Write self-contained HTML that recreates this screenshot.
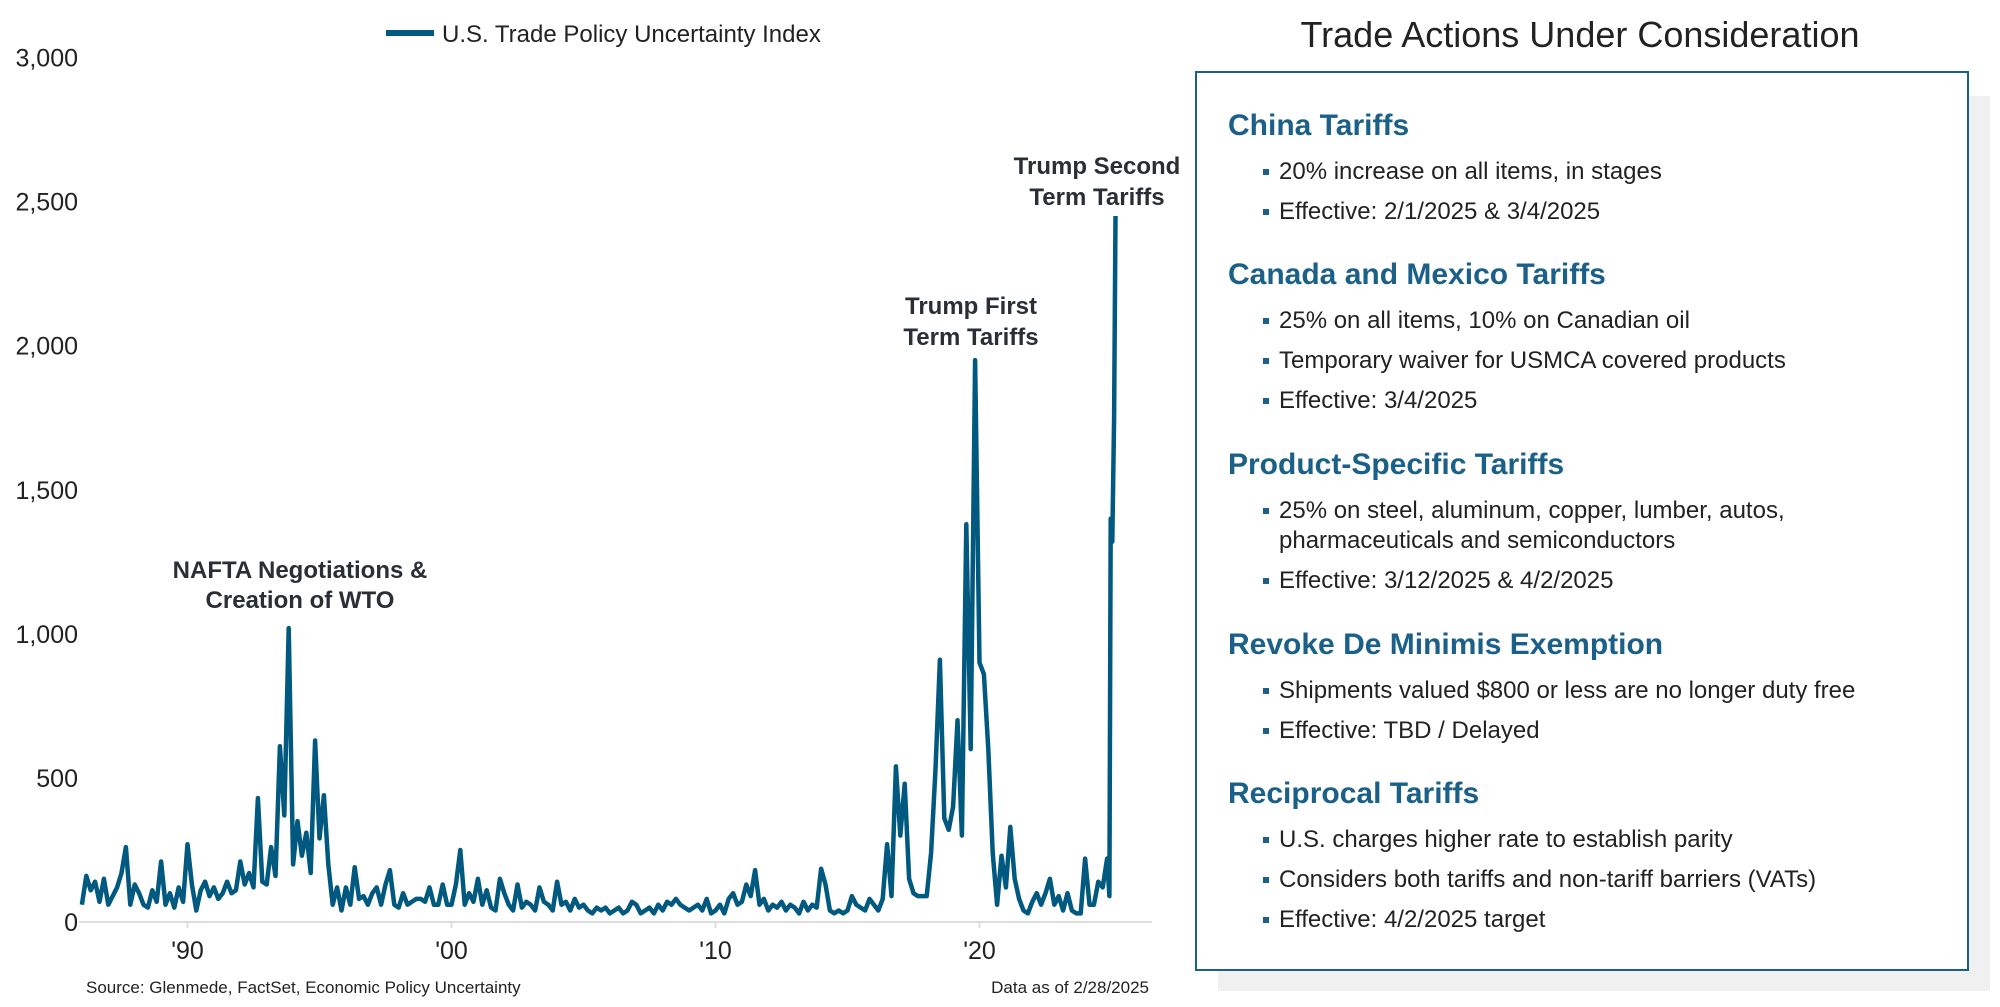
<!DOCTYPE html>
<html><head><meta charset="utf-8">
<style>
body{margin:0;width:2000px;height:1007px;background:#fff;position:relative;overflow:hidden;font-family:"Liberation Sans",sans-serif;color:#222}
.abs{position:absolute}
.h{position:absolute;left:1228px;font-weight:bold;font-size:30px;color:#1b6088;white-space:nowrap}
.b{position:absolute;left:1279px;font-size:24px;color:#222;white-space:nowrap}
.b::before{content:"";position:absolute;left:-16px;top:11px;width:6px;height:6px;background:#1b6088}
.b.nb::before{display:none}
</style></head><body>
<svg id="chart" class="abs" style="left:0;top:0" width="1200" height="1007"></svg>
<div class="abs" style="left:1218px;top:96px;width:772px;height:895px;background:#f0f0f0"></div>
<div class="abs" style="left:1195px;top:71px;width:770px;height:896px;border:2px solid #1b6088;background:#fff"></div>
<div class="abs" style="left:1180px;width:800px;text-align:center;top:14px;font-size:36px;color:#222">Trade Actions Under Consideration</div>
<div class="h" style="top:109px">China Tariffs</div>
<div class="b" style="top:158px">20% increase on all items, in stages</div>
<div class="b" style="top:198px">Effective: 2/1/2025 &amp; 3/4/2025</div>
<div class="h" style="top:258px">Canada and Mexico Tariffs</div>
<div class="b" style="top:307px">25% on all items, 10% on Canadian oil</div>
<div class="b" style="top:347px">Temporary waiver for USMCA covered products</div>
<div class="b" style="top:387px">Effective: 3/4/2025</div>
<div class="h" style="top:448px">Product-Specific Tariffs</div>
<div class="b" style="top:497px">25% on steel, aluminum, copper, lumber, autos,</div>
<div class="b nb" style="top:527px">pharmaceuticals and semiconductors</div>
<div class="b" style="top:567px">Effective: 3/12/2025 &amp; 4/2/2025</div>
<div class="h" style="top:628px">Revoke De Minimis Exemption</div>
<div class="b" style="top:677px">Shipments valued $800 or less are no longer duty free</div>
<div class="b" style="top:717px">Effective: TBD / Delayed</div>
<div class="h" style="top:777px">Reciprocal Tariffs</div>
<div class="b" style="top:826px">U.S. charges higher rate to establish parity</div>
<div class="b" style="top:866px">Considers both tariffs and non-tariff barriers (VATs)</div>
<div class="b" style="top:906px">Effective: 4/2/2025 target</div>
<script>
// bimonthly values, 1986.0 .. 2024.83 (6 per year)
const tpuBimonthly=[
60,160,110,140,70,150,
60,90,120,170,260,60,
130,100,60,50,110,70,
210,60,100,50,120,70,
270,130,40,110,140,90,
120,80,100,140,100,110,
210,130,170,120,430,140,
130,260,160,610,370,1020,
200,350,230,310,170,630,
290,440,200,60,120,40,
120,60,190,80,90,60,
100,120,60,130,180,60,
50,100,60,70,80,80,
70,120,60,60,130,60,
60,130,250,60,100,70,
150,60,110,50,40,150,
100,60,40,130,50,70,
60,40,120,70,60,40,
140,60,70,40,80,50,
60,40,30,50,40,50,
30,40,50,30,40,70,
60,30,40,50,30,60,
40,70,60,80,60,50,
40,50,60,40,80,30,
40,60,30,80,100,60,
70,130,90,180,60,80,
40,60,50,70,40,60,
50,30,70,40,60,50,
185,130,40,30,40,30,
40,90,60,50,40,80,
60,40,80,270,90,540,
300,480,150,100,90,90,
90,240,530,910,360,320,
400,700,300,1380,600,1950,
900,860,600,240,60,230,
120,330,150,80,40,30,
70,100,60,100,150,60,
90,40,100,40,30,30,
220,60,60,140,120,220];
const startYear=1986;
const tailYears=[2024.92,2024.97,2025.03,2025.1,2025.15];
const tailValues=[90,1400,1320,1750,2450];
const yTicks=[0,500,1000,1500,2000,2500,3000];
const yTickLabels=["0","500","1,000","1,500","2,000","2,500","3,000"];
const xTicks=[1990,2000,2010,2020];
const xTickLabels=["'90","'00","'10","'20"];
const years=tpuBimonthly.map((v,i)=>startYear+i/6).concat(tailYears);
const tpu=tpuBimonthly.concat(tailValues);
const NS="http://www.w3.org/2000/svg";
const svg=document.getElementById('chart');
const X=y=>187.5+(y-1990)*26.4;
const Y=v=>922-v*(922-57.5)/3000;
function mk(t,a,txt){const e=document.createElementNS(NS,t);for(const k in a)e.setAttribute(k,a[k]);if(txt!=null)e.textContent=txt;svg.appendChild(e);return e;}
let e=mk('line',{x1:79,x2:1152,y1:922,y2:922,stroke:'#ddd','stroke-width':2});


yTicks.forEach((t,i)=>{const el=mk('text',{x:78,y:Y(t)+9,'text-anchor':'end','font-size':25,fill:'#222','font-family':'Liberation Sans'},yTickLabels[i]);

});
xTicks.forEach((t,i)=>{const tk=mk('line',{x1:X(t),x2:X(t),y1:922,y2:928,stroke:'#ddd','stroke-width':2});


const el=mk('text',{x:X(t),y:959,'text-anchor':'middle','font-size':25,fill:'#222','font-family':'Liberation Sans'},xTickLabels[i]);

});
const d=years.map((y,i)=>(i?'L':'M')+X(y).toFixed(1)+','+Y(tpu[i]).toFixed(1)).join('');
const ln=mk('path',{d:d,fill:'none',stroke:'#02597f','stroke-width':4.5,'stroke-linejoin':'round'});


const lg=mk('line',{x1:386,x2:434,y1:33,y2:33,stroke:'#02597f','stroke-width':6});


const lt=mk('text',{x:442,y:42,'font-size':24,fill:'#222','font-family':'Liberation Sans'},'U.S. Trade Policy Uncertainty Index');


[[300,578,'NAFTA Negotiations &amp;'],[300,608,'Creation of WTO'],[971,314,'Trump First'],[971,345,'Term Tariffs'],[1097,174,'Trump Second'],[1097,205,'Term Tariffs']].forEach(a=>{const t=mk('text',{x:a[0],y:a[1],'text-anchor':'middle','font-size':24,'font-weight':'bold',fill:'#2a2f35','font-family':'Liberation Sans'});t.innerHTML=a[2];

});
const s1=mk('text',{x:86,y:993,'font-size':17,fill:'#222','font-family':'Liberation Sans'},'Source: Glenmede, FactSet, Economic Policy Uncertainty');


const s2=mk('text',{x:1149,y:993,'text-anchor':'end','font-size':17,fill:'#222','font-family':'Liberation Sans'},'Data as of 2/28/2025');


</script>
</body></html>
